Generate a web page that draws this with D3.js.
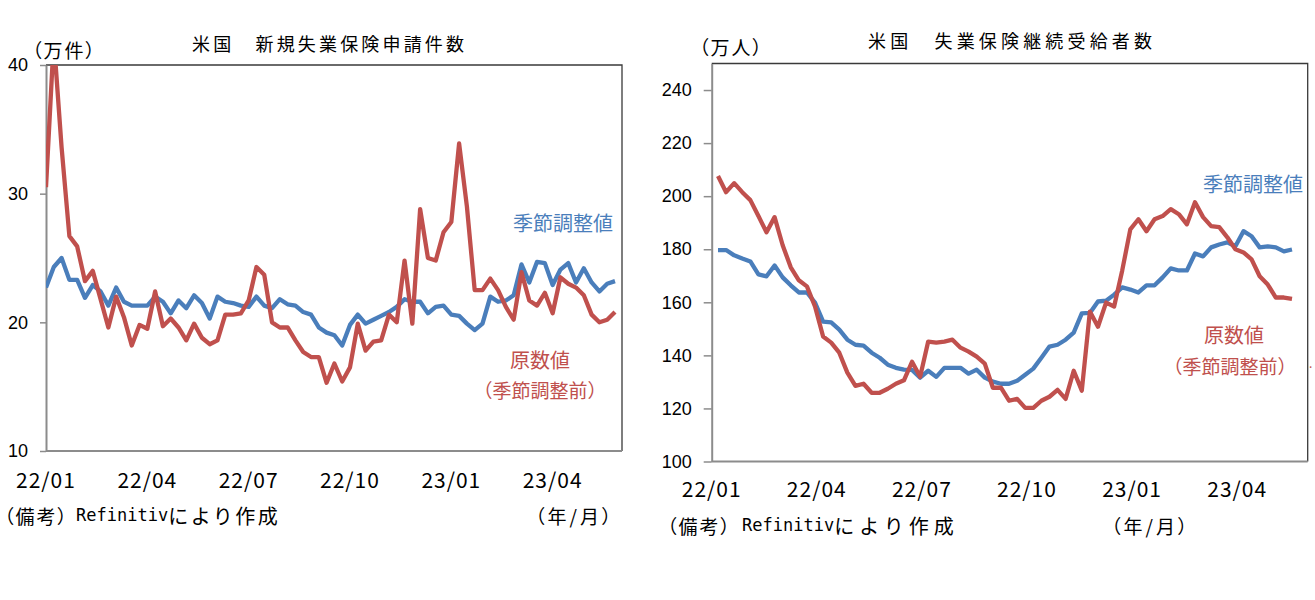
<!DOCTYPE html>
<html>
<head>
<meta charset="utf-8">
<script src="https://cdn.jsdelivr.net/npm/d3@7"></script>
<style>
  html, body { margin: 0; padding: 0; background: #fff; }
  .palt { font-feature-settings: "palt"; }
</style>
</head>
<body>
<div id="chart"></div>
<script>
// US initial jobless claims / continuing claims, weekly, 2022/01 - 2023/05
// values (万件 / 万人)

const claimsSA = [22.7, 24.3, 25.0, 23.3, 23.3, 21.9, 22.9, 22.4, 21.3, 22.7, 21.6, 21.3, 21.3, 21.3, 22.0, 21.6, 20.7, 21.7, 21.1, 22.1,
  21.5, 20.3, 22.0, 21.6, 21.5, 21.3, 21.2, 22.0, 21.3, 21.1, 21.8, 21.4, 21.3, 20.8, 20.6, 19.6, 19.2, 19.0, 18.2, 19.8,
  20.6, 19.9, 20.2, 20.5, 20.8, 21.2, 21.8, 21.6, 21.6, 20.7, 21.2, 21.3, 20.6, 20.5, 19.9, 19.4, 19.9, 22.0, 21.6, 21.7,
  22.1, 24.5, 23.1, 24.7, 24.6, 22.9, 24.1, 24.6, 23.1, 24.2, 23.1, 22.4, 23.0, 23.2];

const claimsNSA = [30.5, 42.0, 33.6, 26.7, 25.9, 23.2, 24.0, 21.8, 19.6, 22.0, 20.4, 18.2, 19.8, 19.5, 22.4, 19.7, 20.3, 19.6, 18.6, 19.9,
  18.8, 18.3, 18.6, 20.6, 20.6, 20.7, 21.7, 24.3, 23.7, 20.0, 19.6, 19.6, 18.6, 17.7, 17.3, 17.3, 15.3, 16.8, 15.4, 16.5,
  19.9, 17.8, 18.5, 18.6, 20.6, 20.0, 24.8, 19.9, 28.8, 25.0, 24.8, 27.0, 27.8, 33.9, 29.0, 22.5, 22.5, 23.4, 22.5, 21.2,
  20.2, 23.9, 21.7, 21.3, 22.3, 20.7, 23.5, 23.0, 22.7, 22.1, 20.6, 20.0, 20.2, 20.8];

const continuingSA = [179.7, 179.7, 177.7, 176.5, 175.4, 170.5, 169.8, 173.9, 169.4, 166.4, 163.7, 163.7, 159.9, 152.7, 152.4, 149.7, 145.9, 144.0,
  143.7, 141.0, 139.1, 136.5, 135.3, 134.6, 134.5, 131.6, 134.2, 131.9, 135.3, 135.3, 135.3, 133.1, 134.6, 131.6, 130.1, 129.3,
  129.3, 130.4, 132.7, 135.0, 139.1, 143.3, 144.0, 145.9, 148.6, 155.8, 156.0, 160.3, 160.6, 162.9, 165.6, 164.8, 163.7, 166.4,
  166.4, 169.4, 172.8, 172.0, 172.0, 178.4, 177.3, 180.7, 181.8, 182.6, 181.1, 186.8, 184.9, 180.7, 181.1, 180.7, 179.2, 179.9];

const continuingNSA = [207.6, 201.5, 204.9, 201.5, 198.5, 192.5, 186.4, 192.1, 181.5, 173.2, 168.3, 166.0, 158.4, 147.1, 144.8, 141.0, 133.5, 128.5,
  129.3, 125.9, 125.9, 127.4, 129.3, 130.6, 137.6, 131.9, 145.2, 144.8, 145.2, 145.9, 142.9, 141.4, 139.5, 136.9, 127.8, 127.8,
  122.9, 123.6, 120.2, 120.2, 122.9, 124.4, 127.0, 123.6, 134.2, 126.7, 156.5, 150.8, 159.9, 158.4, 172.0, 187.5, 191.3, 186.8,
  191.3, 192.5, 195.1, 193.2, 189.4, 197.7, 192.1, 188.7, 188.3, 184.5, 180.0, 178.8, 176.2, 169.8, 166.7, 161.8, 161.8, 161.3];

const xTickLabels = ["22/01", "22/04", "22/07", "22/10", "23/01", "23/04"];
const xTickWeeks = [0, 13, 26, 39, 52, 65];
const yTicksClaims = [10, 20, 30, 40];
const yTicksContinuing = [100, 120, 140, 160, 180, 200, 220, 240];

const BLUE = "#4a7ebb";
const RED = "#c0504d";
const fontJP = '"Noto Sans CJK JP", "Noto Sans", sans-serif';
const fontNum = '"Liberation Sans", Arial, sans-serif';
const fontMono = '"DejaVu Sans Mono", monospace';

const svg = d3.select("#chart").append("svg")
  .attr("width", 1315).attr("height", 600)
  .style("background", "#fff");

function drawPanel(p) {
  const g = svg.append("g");
  const x = d3.scaleLinear().domain([0, p.sa.length - 1]).range(p.xRange);
  const y = d3.scaleLinear().domain(p.yDomain).range([p.bottom, p.top]);

  const clipId = "clip-" + p.id;
  svg.append("clipPath").attr("id", clipId)
    .append("rect")
    .attr("x", p.left).attr("y", p.top)
    .attr("width", p.right - p.left).attr("height", p.bottom - p.top);

  // frame: top + right
  g.append("path")
    .attr("d", `M${p.left},${p.top}H${p.right}V${p.bottom}`)
    .attr("fill", "none").attr("stroke", "#3a3a3a").attr("stroke-width", 1.3);

  // bottom axis line (no ticks)
  g.append("line")
    .attr("x1", p.left).attr("x2", p.right)
    .attr("y1", p.bottom).attr("y2", p.bottom)
    .attr("stroke", "#8c8c8c").attr("stroke-width", 2);

  // y axis
  const yAxis = g.append("g")
    .attr("transform", `translate(${p.left},0)`)
    .call(d3.axisLeft(y).tickValues(p.yTicks).tickSize(p.tickLen).tickSizeOuter(0).tickPadding(p.tickPad));
  yAxis.select(".domain").attr("stroke", "#8c8c8c").attr("stroke-width", 2);
  yAxis.selectAll(".tick line").attr("stroke", "#8c8c8c").attr("stroke-width", 1.5);
  yAxis.selectAll(".tick text")
    .attr("font-family", fontNum).attr("font-size", 18).attr("fill", "#000");

  // x tick labels
  g.selectAll(".xlab").data(xTickLabels).join("text")
    .attr("x", (d, i) => x(xTickWeeks[i]) + p.xLabelShift)
    .attr("y", p.xLabelY)
    .attr("text-anchor", "middle").attr("dominant-baseline", "central")
    .attr("font-family", fontJP).attr("font-size", 21).attr("letter-spacing", 1)
    .attr("fill", "#000")
    .text(d => d);

  const line = d3.line().x((d, i) => x(i)).y(d => y(d)).curve(d3.curveLinear);
  const lines = g.append("g").attr("clip-path", `url(#${clipId})`);
  lines.append("path").datum(p.sa)
    .attr("d", line).attr("fill", "none")
    .attr("stroke", BLUE).attr("stroke-width", 4.3).attr("stroke-linejoin", "round");
  lines.append("path").datum(p.nsa)
    .attr("d", line).attr("fill", "none")
    .attr("stroke", RED).attr("stroke-width", 4.3).attr("stroke-linejoin", "round");

  // texts
  const txt = (s, cx, cy, opt) => {
    const t = g.append("text")
      .attr("x", cx).attr("y", cy)
      .attr("text-anchor", opt.anchor || "middle")
      .attr("dominant-baseline", "central")
      .attr("font-family", fontJP)
      .attr("font-size", opt.size)
      .attr("fill", opt.color || "#000")
      .text(s);
    if (opt.palt) t.attr("class", "palt");
    if (opt.ls) t.attr("letter-spacing", opt.ls);
    if (opt.len) t.attr("textLength", opt.len).attr("lengthAdjust", "spacing");
    return t;
  };

  txt(p.title, p.titleX, p.titleY, { size: 18, len: p.titleLen });
  txt(p.unit, p.unitX, p.unitY, { size: 19, anchor: "start", palt: true, ls: 2 });
  txt("季節調整値", p.saLabel[0], p.saLabel[1], { size: 20, color: BLUE });
  txt("原数値", p.nsaLabel[0], p.nsaLabel[1], { size: 20, color: RED });
  txt("（季節調整前）", p.nsaLabel2[0], p.nsaLabel2[1], { size: 19, color: RED });

  // source note: mixed fonts, like the original
  const note = g.append("text")
    .attr("x", p.noteX).attr("y", p.noteY)
    .attr("dominant-baseline", "central")
    .attr("fill", "#000");
  note.append("tspan").attr("class", "palt")
    .attr("font-family", fontJP).attr("font-size", 19).attr("letter-spacing", 2)
    .text("（備考）");
  note.append("tspan")
    .attr("font-family", fontMono).attr("font-size", 17).attr("dx", p.noteGap)
    .text("Refinitiv");
  note.append("tspan")
    .attr("font-family", fontJP).attr("font-size", 20).attr("letter-spacing", p.noteLs)
    .text("により作成");

  txt("（年/月）", p.ymX, p.noteY, { size: 19, anchor: "start", palt: true, ls: 3 });
  return g;
}

drawPanel({
  id: "claims", sa: claimsSA, nsa: claimsNSA,
  xRange: [46, 615], yDomain: [10, 40], yTicks: yTicksClaims,
  left: 46, right: 622, top: 65, bottom: 451,
  tickLen: 6, tickPad: 12, xLabelShift: 0, xLabelY: 479,
  title: "米国　新規失業保険申請件数", titleX: 328, titleY: 43, titleLen: 272,
  unit: "（万件）", unitX: 32, unitY: 49,
  saLabel: [563, 222], nsaLabel: [540, 359], nsaLabel2: [540, 389],
  noteX: 4, noteY: 515, noteGap: 7, noteLs: 2.5, ymX: 535
});

const right = drawPanel({
  id: "cont", sa: continuingSA, nsa: continuingNSA,
  xRange: [718, 1292], yDomain: [100, 250], yTicks: yTicksContinuing,
  left: 711.7, right: 1307.7, top: 63.5, bottom: 461.5,
  tickLen: 8, tickPad: 12, xLabelShift: -6.3, xLabelY: 488,
  title: "米国　失業保険継続受給者数", titleX: 1010, titleY: 40, titleLen: 284,
  unit: "（万人）", unitX: 699, unitY: 46,
  saLabel: [1253, 183], nsaLabel: [1234, 334], nsaLabel2: [1230, 365],
  noteX: 667, noteY: 525, noteGap: 10, noteLs: 5, ymX: 1111
});

right.append("text")
  .attr("x", 1309).attr("y", 368)
  .attr("font-family", fontJP).attr("font-size", 12).attr("fill", RED)
  .text(".");
</script>
</body>
</html>
